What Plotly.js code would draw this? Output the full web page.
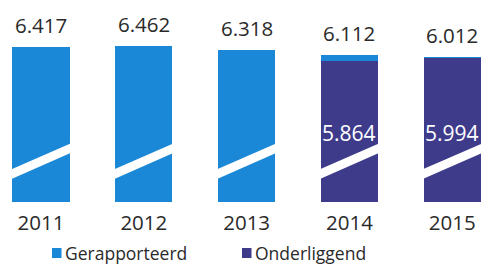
<!DOCTYPE html>
<html><head><meta charset="utf-8">
<script src="https://cdn.plot.ly/plotly-3.0.1.min.js"></script>
<style>html,body{margin:0;padding:0;background:#fff}#chart{width:481px;height:264px}</style>
</head><body><div id="chart"></div>
<script>
// ---- data ----
const years = ['2011', '2012', '2013', '2014', '2015'];
const reported = [6.417, 6.462, 6.318, 6.112, 6.012];
const underlying = [null, null, null, 5.864, 5.994];
const reportedLabels = ['6.417', '6.462', '6.318', '6.112', '6.012'];
const underlyingLabels = [null, null, null, '5.864', '5.994'];
const seriesNames = ['Gerapporteerd', 'Onderliggend'];

// ---- style ----
const BLUE = '#1a88d6';
const PURPLE = '#3e3b8b';
const TEXT = '#2a2a2a';
const FONT = 'Open Sans, sans-serif';
const BARW = 0.555;

const idx = years.map((_, i) => i);
const reportedTop = reported.map((v, i) => underlying[i] == null ? v : v - underlying[i]);

const traces = [
  {type: 'bar', name: seriesNames[1], x: idx, y: underlying, width: BARW,
   marker: {color: PURPLE, line: {width: 0}}, hoverinfo: 'skip'},
  {type: 'bar', name: seriesNames[0], x: idx, y: reportedTop, width: BARW,
   marker: {color: BLUE, line: {width: 0}}, hoverinfo: 'skip'}
];

// axis-break stripes (decoration)
const shapes = [];
const half = 0.32, slope = 0.234, upC = 0.237, loC = 0.1875;
idx.forEach(i => {
  const x0 = i - half, x1 = i + half;
  const uL = upC - slope * half, uR = upC + slope * half;
  const lL = loC - slope * half, lR = loC + slope * half;
  shapes.push({type: 'path', xref: 'x', yref: 'paper', layer: 'above',
    path: `M ${x0} ${lL} L ${x0} ${uL} L ${x1} ${uR} L ${x1} ${lR} Z`,
    fillcolor: '#ffffff', line: {width: 0}});
});

// manual legend swatches
const W = 481, PB = 202, PH = 192;
const px = v => v / W, py = v => (PB - v) / PH;
shapes.push({type: 'rect', xref: 'paper', yref: 'paper', x0: px(52), x1: px(61.5), y0: py(258), y1: py(248), fillcolor: BLUE, line: {width: 0}});
shapes.push({type: 'rect', xref: 'paper', yref: 'paper', x0: px(242), x1: px(251.5), y0: py(258), y1: py(248), fillcolor: PURPLE, line: {width: 0}});

const annotations = [];
idx.forEach(i => {
  annotations.push({x: i, y: reported[i], xref: 'x', yref: 'y', text: reportedLabels[i],
    showarrow: false, yanchor: 'middle', yshift: 22, font: {size: 20.5, color: TEXT, family: FONT}});
  if (underlying[i] != null) {
    annotations.push({x: i, y: py(133), xref: 'x', yref: 'paper', text: underlyingLabels[i],
      showarrow: false, yanchor: 'middle', font: {size: 21, color: '#ffffff', family: FONT}});
  }
});
annotations.push({x: px(63), y: py(253), xref: 'paper', yref: 'paper', xanchor: 'left', yanchor: 'middle',
  text: seriesNames[0], showarrow: false, font: {size: 17.5, color: TEXT, family: FONT}});
annotations.push({x: px(253), y: py(253), xref: 'paper', yref: 'paper', xanchor: 'left', yanchor: 'middle',
  text: seriesNames[1], showarrow: false, font: {size: 17.5, color: TEXT, family: FONT}});

const layout = {
  width: 481, height: 264,
  margin: {l: 0, r: 0, t: 10, b: 62, pad: 0},
  paper_bgcolor: '#ffffff', plot_bgcolor: '#ffffff',
  barmode: 'stack', showlegend: false,
  font: {family: FONT, color: TEXT},
  xaxis: {type: 'linear', range: [-0.399, 4.28], tickvals: idx, ticktext: years,
    showgrid: false, zeroline: false, showline: false, ticks: '', ticklabelstandoff: 6,
    tickfont: {size: 20.5, color: TEXT, family: FONT}, fixedrange: true},
  yaxis: {range: [0, 7.967], visible: false, fixedrange: true},
  shapes: shapes, annotations: annotations
};

Plotly.newPlot('chart', traces, layout, {staticPlot: true, displayModeBar: false});
</script></body></html>
